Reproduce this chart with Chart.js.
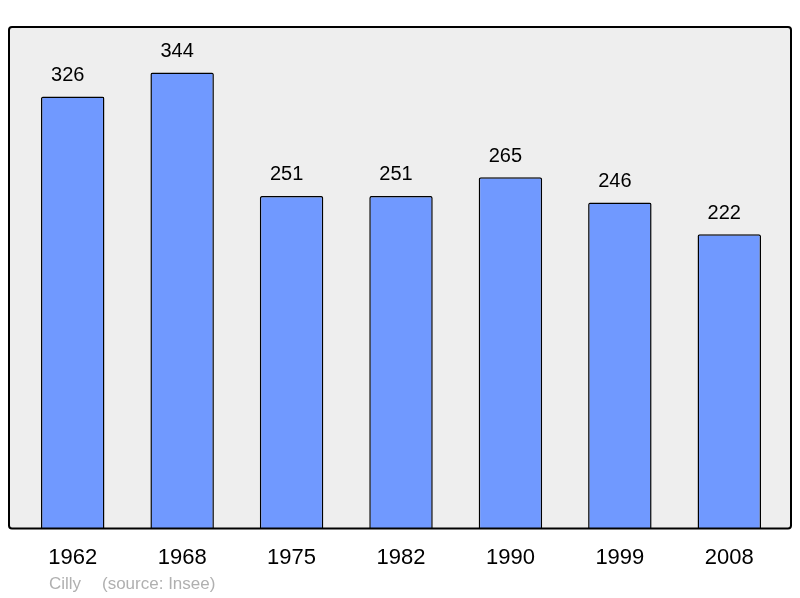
<!DOCTYPE html>
<html><head><meta charset="utf-8">
<script src="https://cdn.jsdelivr.net/npm/chart.js@4"></script>
<style>html,body{margin:0;padding:0;background:#fff;}canvas{display:block;}</style>
</head><body>
<canvas id="c" width="800" height="598"></canvas>
<script>
const years = ["1962","1968","1975","1982","1990","1999","2008"];
const population = [326,344,251,251,265,246,222];
const townName = "Cilly";
const sourceText = "(source: Insee)";

const FONT = "'Liberation Sans', Arial, sans-serif";

const bgBox = {
  id: 'bgBox',
  beforeDraw(chart) {
    const {ctx, chartArea: a} = chart;
    const x0 = a.left - 9, x1 = a.right + 7, y0 = a.top, y1 = a.bottom;
    ctx.save();
    ctx.beginPath();
    if (ctx.roundRect) ctx.roundRect(x0, y0, x1 - x0, y1 - y0, 3); else ctx.rect(x0, y0, x1 - x0, y1 - y0);
    ctx.fillStyle = '#eeeeee';
    ctx.fill();
    ctx.restore();
  },
  afterDraw(chart) {
    const {ctx, chartArea: a} = chart;
    const x0 = a.left - 9, x1 = a.right + 7, y0 = a.top, y1 = a.bottom;
    ctx.save();
    ctx.beginPath();
    if (ctx.roundRect) ctx.roundRect(x0, y0, x1 - x0, y1 - y0, 3); else ctx.rect(x0, y0, x1 - x0, y1 - y0);
    ctx.lineWidth = 2;
    ctx.strokeStyle = '#000';
    ctx.stroke();
    ctx.fillStyle = '#b0b0b0';
    ctx.font = '17px ' + FONT;
    ctx.textBaseline = 'middle';
    ctx.textAlign = 'left';
    ctx.fillText(townName, 49, 584);
    ctx.fillText(sourceText, 102, 584);
    ctx.restore();
  },
  afterDatasetsDraw(chart) {
    const {ctx} = chart;
    const meta = chart.getDatasetMeta(0);
    ctx.save();
    ctx.fillStyle = '#000';
    ctx.font = '20px ' + FONT;
    ctx.textAlign = 'center';
    ctx.textBaseline = 'middle';
    meta.data.forEach((bar, i) => {
      ctx.fillText(String(population[i]), bar.x - 5, bar.y - 21);
    });
    ctx.restore();
  }
};

new Chart(document.getElementById('c'), {
  type: 'bar',
  data: {
    labels: years,
    datasets: [{
      data: population,
      backgroundColor: '#7099ff',
      borderColor: '#000',
      borderWidth: 1.5,
      borderSkipped: 'bottom',
      borderRadius: 2,
      barPercentage: 0.58,
      categoryPercentage: 1
    }]
  },
  options: {
    responsive: false,
    animation: false,
    devicePixelRatio: 1,
    layout: {padding: {left: 18, right: 16, top: 27, bottom: 11}},
    plugins: {legend: {display: false}, tooltip: {enabled: false}},
    scales: {
      x: {
        grid: {display: false, drawTicks: false},
        border: {display: false},
        ticks: {color: '#000', font: {family: FONT, size: 22}, padding: 16}
      },
      y: {
        display: false,
        min: 0,
        max: Math.max(...population) * 1.1
      }
    }
  },
  plugins: [bgBox]
});
</script>
</body></html>
